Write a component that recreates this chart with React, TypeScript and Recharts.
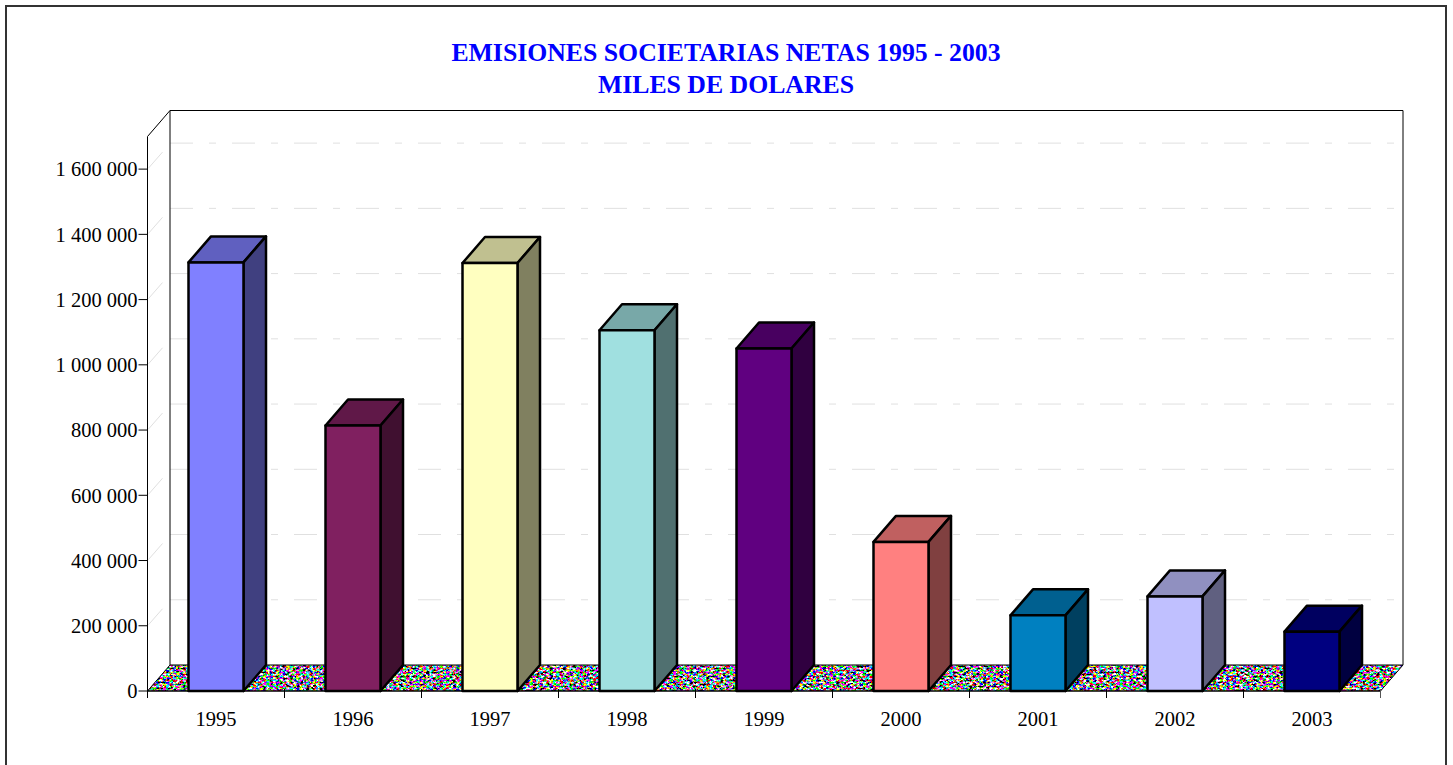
import { BarChart, Bar, XAxis, YAxis, CartesianGrid, ReferenceArea } from 'recharts'

const YEARS = ['1995', '1996', '1997', '1998', '1999', '2000', '2001', '2002', '2003']
const EMISIONES = [1314000, 814000, 1312000, 1106000, 1050000, 457000, 232000, 290000, 182000]
const COLORS = ['#8080ff', '#802060', '#ffffc0', '#a0e0e0', '#600080', '#ff8080', '#0080c0', '#c0c0ff', '#000080']
const TOP_COLORS = ['#6060c0', '#601848', '#c0c090', '#78a8a8', '#480060', '#c06060', '#006090', '#9090c0', '#000060']
const SIDE_COLORS = ['#404080', '#401030', '#808060', '#507070', '#300040', '#804040', '#004060', '#606080', '#000040']
const Y_TICKS = [0, 200000, 400000, 600000, 800000, 1000000, 1200000, 1400000, 1600000]

const data = YEARS.map((year, i) => ({ year, value: EMISIONES[i] }))

const FONT = '"Liberation Serif", "Times New Roman", serif'
const DEPTH_X = 22.5
const DEPTH_Y = 26
const CATEGORY_W = 137

const pts = (list: number[][]) => list.map(p => p.join(',')).join(' ')

function Box3D({ x, y, width, height, index }: any) {
  const r = x + width
  const b = y + height
  const dx = DEPTH_X
  const dy = DEPTH_Y
  const line = { stroke: '#000', strokeWidth: 2.5, strokeLinejoin: 'round' as const }
  return (
    <g>
      <polygon points={pts([[x, y], [x + dx, y - dy], [r + dx, y - dy], [r, y]])} fill={TOP_COLORS[index]} {...line} />
      <polygon points={pts([[r, y], [r + dx, y - dy], [r + dx, b - dy], [r, b]])} fill={SIDE_COLORS[index]} {...line} />
      <rect x={x} y={y} width={width} height={height} fill={COLORS[index]} {...line} />
    </g>
  )
}

function Walls({ x, y, width, height }: any) {
  const r = x + width
  const b = y + height
  const floor = pts([[x, b], [x + DEPTH_X, b - DEPTH_Y], [r + DEPTH_X, b - DEPTH_Y], [r, b]])
  return (
    <g>
      <polyline
        points={pts([[x, y], [x + DEPTH_X, y - DEPTH_Y], [r + DEPTH_X, y - DEPTH_Y], [r + DEPTH_X, b - DEPTH_Y]])}
        fill="none" stroke="#000" strokeWidth={1}
      />
      <line x1={x + DEPTH_X} y1={y - DEPTH_Y} x2={x + DEPTH_X} y2={b - DEPTH_Y} stroke="#000" strokeWidth={1} />
      <polygon points={floor} fill="#fff" filter="url(#floorNoise)" />
      <polygon points={floor} fill="none" stroke="#000" strokeWidth={1} />
    </g>
  )
}

function GridLine({ x1, x2, y1 }: any) {
  return (
    <g stroke="#e0e0e0" strokeWidth={1} fill="none">
      <line x1={x1 + 1} y1={y1 - 1} x2={x1 + 15} y2={y1 - 17} />
      <line x1={x1 + DEPTH_X} y1={y1 - DEPTH_Y} x2={x2 + DEPTH_X} y2={y1 - DEPTH_Y} strokeDasharray="23 16 7 16" />
    </g>
  )
}

function YearTick({ x, y, payload, index }: any) {
  const left = x - CATEGORY_W / 2
  const top = y - 2
  return (
    <g>
      <line x1={left} y1={top - 8} x2={left} y2={top + 1} stroke="#000" />
      {index === YEARS.length - 1 && (
        <line x1={left + CATEGORY_W} y1={top - 8} x2={left + CATEGORY_W} y2={top + 1} stroke="#555" />
      )}
      <text x={x} y={top + 29} textAnchor="middle" fontFamily={FONT} fontSize={20.5} fill="#000">
        {payload.value}
      </text>
    </g>
  )
}

const formatMiles = (v: number) => String(v).replace(/\B(?=(\d{3})+$)/g, ' ')

export default function App() {
  return (
    <div style={{ position: 'absolute', left: 0, top: 0, width: 1453, height: 765, overflow: 'hidden', background: '#fff' }}>
      <div style={{ position: 'absolute', left: 5, top: 5, width: 1438, height: 780, border: '2px solid #333' }} />
      <div style={{
        position: 'absolute', left: 0, top: 37, width: 1452, textAlign: 'center',
        fontFamily: FONT, fontWeight: 700, fontSize: 25.75, lineHeight: '32px', color: '#0000ff',
      }}>
        EMISIONES SOCIETARIAS NETAS 1995 - 2003<br />MILES DE DOLARES
      </div>
      <BarChart
        width={1453} height={765} data={data}
        margin={{ top: 136.5, right: 72.5, left: 0, bottom: 0 }}
        barSize={55}
        style={{ position: 'absolute', left: 0, top: 0 }}
      >
        <defs>
          <filter id="floorNoise" x="0" y="0" width="1" height="1" colorInterpolationFilters="sRGB">
            <feTurbulence type="fractalNoise" baseFrequency="0.3 0.5" numOctaves={2} seed={4} result="n" />
            <feColorMatrix in="n" type="matrix" values="4 0 0 0 -1.5  0 4 0 0 -1.5  0 0 4 0 -1.5  0 0 0 0 1" />
            <feComponentTransfer>
              <feFuncR type="discrete" tableValues="0 0.55 1" />
              <feFuncG type="discrete" tableValues="0 0.55 1" />
              <feFuncB type="discrete" tableValues="0 0.6 1" />
            </feComponentTransfer>
            <feComposite in2="SourceAlpha" operator="in" />
          </filter>
        </defs>
        <CartesianGrid vertical={false} horizontal={(p: any) => <GridLine key={p.key ?? p.y1} {...p} />} />
        <ReferenceArea y1={0} y2={1700000} shape={Walls} ifOverflow="visible" />
        <XAxis
          dataKey="year" interval={0} height={74}
          axisLine={{ stroke: '#000' }} tickLine={false}
          tick={YearTick}
        />
        <YAxis
          width={147.5} domain={[0, 1700000]} ticks={Y_TICKS} interval={0}
          tickFormatter={formatMiles} tickSize={9} tickMargin={1}
          axisLine={{ stroke: '#000' }} tickLine={{ stroke: '#000' }}
          tick={{ fontFamily: FONT, fontSize: 20.5, fill: '#000' }}
        />
        <Bar dataKey="value" shape={Box3D} isAnimationActive={false} />
      </BarChart>
    </div>
  )
}
